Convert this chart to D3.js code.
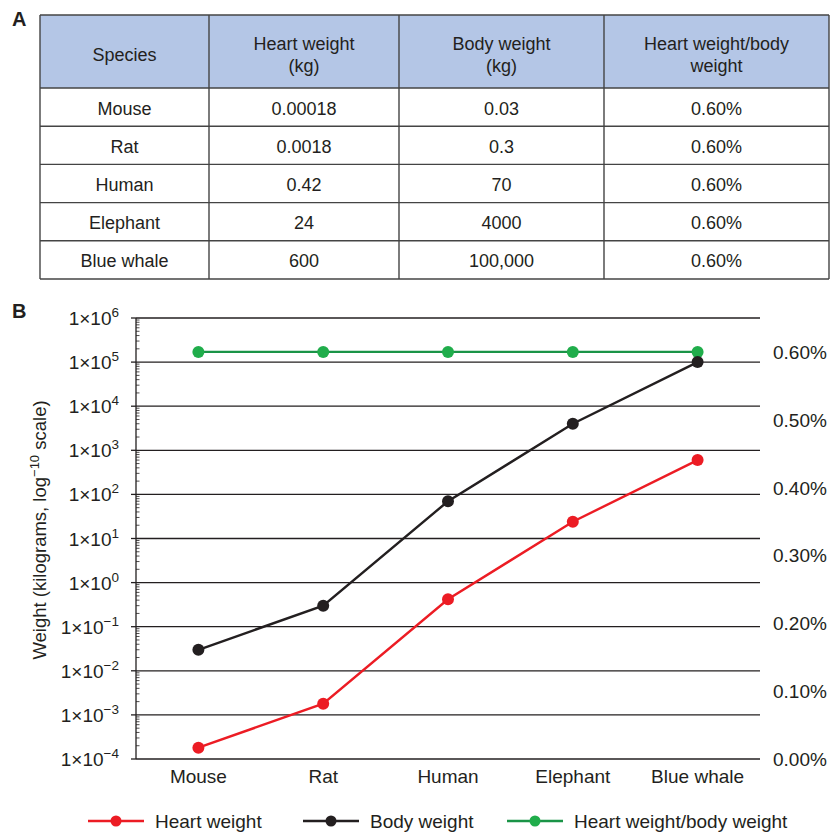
<!DOCTYPE html>
<html>
<head>
<meta charset="utf-8">
<script src="https://cdn.jsdelivr.net/npm/d3@7"></script>
<style>
  body { margin: 0; background: #fff; }
  svg text { font-family: 'Liberation Sans', Arial, sans-serif; fill: #231f20; }
</style>
</head>
<body>
<div id="canvas"></div>
<script>
/*
 * Data
 */
const species = ['Mouse', 'Rat', 'Human', 'Elephant', 'Blue whale'];
const heartWeight = [0.00018, 0.0018, 0.42, 24, 600];
const bodyWeight = [0.03, 0.3, 70, 4000, 100000];
const heartLabels = ['0.00018', '0.0018', '0.42', '24', '600'];
const bodyLabels = ['0.03', '0.3', '70', '4000', '100,000'];
const ratio = [0.006, 0.006, 0.006, 0.006, 0.006];
const headers = [['Species'], ['Heart weight', '(kg)'], ['Body weight', '(kg)'], ['Heart weight/body', 'weight']];
const leftExponents = [-4, -3, -2, -1, 0, 1, 2, 3, 4, 5, 6];
const rightTicks = [0, 0.001, 0.002, 0.003, 0.004, 0.005, 0.006];

const ink = '#231f20';
const color = {
  heart: '#ec1c24',
  body: '#231f20',
  ratioLine: '#1a9447',
  ratioDot: '#20ad4b'
};

const svgWidth = 830, svgHeight = 832;

const svg = d3.select('#canvas').append('svg')
  .attr('width', svgWidth)
  .attr('height', svgHeight);

/*
 * Panel A: table
 */
svg.append('text').attr('x', 12).attr('y', 26)
  .style('font-size', '20px').style('font-weight', 'bold').text('A');

const colEdges = [40, 209, 399, 604, 829];
const headerTop = 15, headerBottom = 88, tableBottom = 279;
const rowScale = d3.scaleBand().domain(species).range([headerBottom, tableBottom]);

const table = svg.append('g');
table.append('rect')
  .attr('x', colEdges[0]).attr('y', headerTop)
  .attr('width', colEdges[4] - colEdges[0]).attr('height', headerBottom - headerTop)
  .attr('fill', '#b4c6e6');

const rows = species.map((s, i) => [s, heartLabels[i], bodyLabels[i], (ratio[i] * 100).toFixed(2) + '%']);

// header text
headers.forEach((lines, c) => {
  const cx = (colEdges[c] + colEdges[c + 1]) / 2;
  const cy = (headerTop + headerBottom) / 2;
  const t = table.append('text').attr('text-anchor', 'middle').style('font-size', '18px');
  lines.forEach((l, k) => {
    t.append('tspan').attr('x', cx)
      .attr('y', cy + 9.5 + (k - (lines.length - 1) / 2) * 22)
      .text(l);
  });
});

rows.forEach((r, i) => {
  const y = rowScale(species[i]) + rowScale.bandwidth() / 2 + 7.5;
  r.forEach((v, c) => {
    table.append('text')
      .attr('x', (colEdges[c] + colEdges[c + 1]) / 2)
      .attr('y', y)
      .attr('text-anchor', 'middle')
      .style('font-size', '18px')
      .text(v);
  });
});

// grid lines of the table
const hLines = [headerTop, headerBottom].concat(species.map(s => rowScale(s) + rowScale.bandwidth()));
hLines.forEach(y => {
  table.append('line').attr('x1', colEdges[0]).attr('x2', colEdges[4])
    .attr('y1', y).attr('y2', y)
    .attr('stroke', '#444').attr('stroke-width', 1.4);
});
colEdges.forEach(x => {
  table.append('line').attr('x1', x).attr('x2', x)
    .attr('y1', headerTop).attr('y2', tableBottom)
    .attr('stroke', '#444').attr('stroke-width', 1.4);
});

/*
 * Panel B: chart
 */
svg.append('text').attr('x', 12).attr('y', 318)
  .style('font-size', '20px').style('font-weight', 'bold').text('B');

const plot = { left: 136, right: 760, top: 318, bottom: 759 };

const xScale = d3.scaleBand()
  .domain(species)
  .range([plot.left, plot.right]);
const xc = (s) => xScale(s) + xScale.bandwidth() / 2;

const yScale = d3.scaleLog()
  .domain([1e-4, 1e6])
  .range([plot.bottom, plot.top]);

const yRight = d3.scaleLinear()
  .domain([0, 0.0065])
  .range([plot.bottom, plot.top]);

// horizontal gridlines
svg.append('g')
  .selectAll('line')
  .data(leftExponents)
  .enter().append('line')
  .attr('x1', plot.left).attr('x2', plot.right)
  .attr('y1', d => yScale(Math.pow(10, d)))
  .attr('y2', d => yScale(Math.pow(10, d)))
  .attr('stroke', ink).attr('stroke-width', 1.3);

// left axis: line, major ticks, minor ticks
const leftAxis = svg.append('g');
leftAxis.append('line')
  .attr('x1', plot.left).attr('x2', plot.left)
  .attr('y1', plot.top).attr('y2', plot.bottom)
  .attr('stroke', ink).attr('stroke-width', 1.3);

leftAxis.selectAll('.major')
  .data(leftExponents)
  .enter().append('line')
  .attr('class', 'major')
  .attr('x1', plot.left - 5).attr('x2', plot.left)
  .attr('y1', d => yScale(Math.pow(10, d)))
  .attr('y2', d => yScale(Math.pow(10, d)))
  .attr('stroke', ink).attr('stroke-width', 1.3);

const minor = [];
leftExponents.slice(0, -1).forEach(e => {
  for (let m = 2; m <= 9; m++) minor.push(m * Math.pow(10, e));
});
leftAxis.selectAll('.minor')
  .data(minor)
  .enter().append('line')
  .attr('class', 'minor')
  .attr('x1', plot.left).attr('x2', plot.left + 3.5)
  .attr('y1', d => yScale(d)).attr('y2', d => yScale(d))
  .attr('stroke', ink).attr('stroke-width', 0.8);

const tickLabels = leftAxis.selectAll('.tl')
  .data(leftExponents)
  .enter().append('text')
  .attr('class', 'tl')
  .attr('x', plot.left - 17)
  .attr('y', d => yScale(Math.pow(10, d)) + 7)
  .attr('text-anchor', 'end')
  .style('font-size', '19px');
tickLabels.append('tspan').text('1\u00d710');
tickLabels.append('tspan')
  .attr('dy', -8)
  .style('font-size', '13.5px')
  .text(d => d < 0 ? '\u2212' + Math.abs(d) : String(d));

// y axis title
const yTitle = svg.append('text')
  .attr('transform', `translate(46,530) rotate(-90)`)
  .attr('text-anchor', 'middle')
  .style('font-size', '18.5px');
yTitle.append('tspan').text('Weight (kilograms, log');
yTitle.append('tspan').attr('dy', -7).style('font-size', '13px').text('\u221210');
yTitle.append('tspan').attr('dy', 7).text(' scale)');

// right axis labels
svg.append('g')
  .selectAll('text')
  .data(rightTicks)
  .enter().append('text')
  .attr('x', 773)
  .attr('y', d => yRight(d) + 7)
  .style('font-size', '19px')
  .text(d => (d * 100).toFixed(2) + '%');

// x axis labels
svg.append('g')
  .selectAll('text')
  .data(species)
  .enter().append('text')
  .attr('x', d => xc(d))
  .attr('y', plot.bottom + 24)
  .attr('text-anchor', 'middle')
  .style('font-size', '19px')
  .text(d => d);

/*
 * Series
 */
const series = [
  { name: 'Heart weight', values: heartWeight, y: yScale, line: color.heart, dot: color.heart },
  { name: 'Body weight', values: bodyWeight, y: yScale, line: color.body, dot: color.body },
  { name: 'Heart weight/body weight', values: ratio, y: yRight, line: color.ratioLine, dot: color.ratioDot }
];

// draw ratio first so others sit above
[series[2], series[1], series[0]].forEach(s => {
  const g = svg.append('g');
  const line = d3.line()
    .x((d, i) => xc(species[i]))
    .y(d => s.y(d));
  g.append('path')
    .datum(s.values)
    .attr('d', line)
    .attr('fill', 'none')
    .attr('stroke', s.line)
    .attr('stroke-width', 2.4);
  g.selectAll('circle')
    .data(s.values)
    .enter().append('circle')
    .attr('cx', (d, i) => xc(species[i]))
    .attr('cy', d => s.y(d))
    .attr('r', 6)
    .attr('fill', s.dot);
});

/*
 * Legend
 */
const legendX = [88, 303, 507];
const legend = svg.append('g').attr('transform', 'translate(0,821)');
series.forEach((s, i) => {
  const g = legend.append('g').attr('transform', `translate(${legendX[i]},0)`);
  g.append('line').attr('x1', 0).attr('x2', 56).attr('y1', 0).attr('y2', 0)
    .attr('stroke', s.line).attr('stroke-width', 2.4);
  g.append('circle').attr('cx', 28).attr('cy', 0).attr('r', 5.5).attr('fill', s.dot);
  g.append('text').attr('x', 67).attr('y', 7)
    .style('font-size', '19px')
    .text(s.name);
});
</script>
</body>
</html>
